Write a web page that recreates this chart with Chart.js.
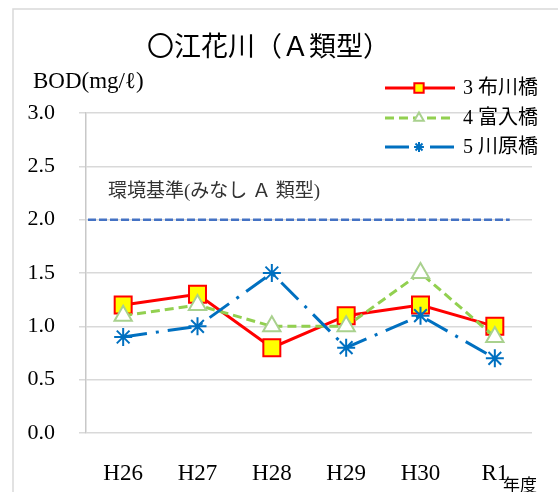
<!DOCTYPE html>
<html>
<head>
<meta charset="utf-8">
<script src="https://cdn.jsdelivr.net/npm/chart.js@4"></script>
<style>
  html, body { margin: 0; padding: 0; background: #fff; }
  #wrap { width: 558px; height: 492px; position: relative; }
</style>
</head>
<body>
<div id="wrap"><canvas id="grafica"></canvas></div>
<script>
// 年度ごとのBOD (mg/ℓ)
const years = ['H26', 'H27', 'H28', 'H29', 'H30', 'R1'];
const nunokawa = [1.2, 1.3, 0.8, 1.1, 1.2, 1.0];   // 3 布川橋
const tomiiri = [1.1, 1.2, 1.0, 1.0, 1.5, 0.9];    // 4 富入橋
const kawahara = [0.9, 1.0, 1.5, 0.8, 1.1, 0.7];   // 5 川原橋
const yTicks = [0.0, 0.5, 1.0, 1.5, 2.0, 2.5, 3.0];
const standardValue = 2.0;

const serif = '"Liberation Serif", "Noto Sans CJK JP", serif';

// 枠・タイトル・基準線・凡例を描くプラグイン
const decoraciones = {
    id: 'decoraciones',
    beforeDraw(chart) {
        const c = chart.ctx;
        c.save();
        c.strokeStyle = '#d9d9d9';
        c.lineWidth = 1.5;
        c.strokeRect(13, 9, 600, 600);
        c.restore();
    },
    afterDatasetsDraw(chart) {
        const c = chart.ctx;
        const area = chart.chartArea;
        const y = chart.scales.y.getPixelForValue(standardValue);
        c.save();
        // 環境基準線
        c.strokeStyle = '#4472C4';
        c.lineWidth = 2.5;
        c.setLineDash([8, 3]);
        c.beginPath();
        c.moveTo(area.left + 2, y);
        c.lineTo(area.left + (area.right - area.left) * 0.95, y);
        c.stroke();
        c.setLineDash([]);
        c.fillStyle = '#333';
        c.textBaseline = 'alphabetic';
        c.font = '19px ' + serif;
        c.fillText('環境基準(みなし Ａ 類型)', 108, 197);

        // タイトル
        c.fillStyle = '#000';
        c.font = '27px ' + serif;
        c.fillText('〇江花川（Ａ類型）', 147, 56);
        c.font = '23px ' + serif;
        c.fillText('BOD(mg/ℓ)', 33, 88);
        c.font = '17px ' + serif;
        c.fillText('年度', 503, 491);

        // 凡例
        const rows = [88, 118, 147];
        chart.data.datasets.forEach((ds, i) => {
            const ry = rows[i];
            c.strokeStyle = ds.borderColor;
            c.lineWidth = ds.borderWidth;
            c.setLineDash(ds.borderDash || []);
            c.beginPath();
            c.moveTo(385, ry);
            c.lineTo(455, ry);
            c.stroke();
            c.setLineDash([]);
            // drawPoint usa el estilo actual del contexto
            c.fillStyle = ds.pointBackgroundColor;
            c.strokeStyle = ds.pointBorderColor;
            c.lineWidth = ds.pointBorderWidth;
            Chart.helpers.drawPoint(c, {
                pointStyle: ds.pointStyle,
                radius: ds.pointRadius * 0.55,
                borderWidth: ds.pointBorderWidth,
                rotation: 0
            }, 419, ry);
            c.fillStyle = '#000';
            c.font = '20px ' + serif;
            c.textBaseline = 'middle';
            c.fillText(ds.label, 463, ry + 1);
        });
        c.restore();
    }
};

new Chart(document.getElementById('grafica'), {
    type: 'line',
    data: {
        labels: years,
        datasets: [{
            label: '3 布川橋',
            data: nunokawa,
            borderColor: '#FF0000',
            borderWidth: 3,
            pointStyle: 'rect',
            pointRadius: 12,
            pointBackgroundColor: '#FFFF00',
            pointBorderColor: '#FF0000',
            pointBorderWidth: 2,
            order: 3
        }, {
            label: '4 富入橋',
            data: tomiiri,
            borderColor: '#92D050',
            borderWidth: 3,
            borderDash: [9, 5],
            pointStyle: 'triangle',
            pointRadius: 10,
            pointBackgroundColor: '#FFFFFF',
            pointBorderColor: '#A9D18E',
            pointBorderWidth: 2,
            order: 2
        }, {
            label: '5 川原橋',
            data: kawahara,
            borderColor: '#0070C0',
            borderWidth: 3,
            borderDash: [24, 9, 3, 9],
            pointStyle: 'star',
            pointRadius: 9,
            pointBackgroundColor: '#0070C0',
            pointBorderColor: '#0070C0',
            pointBorderWidth: 2,
            order: 1
        }]
    },
    options: {
        responsive: true,
        maintainAspectRatio: false,
        animation: false,
        layout: { padding: { top: 113, right: 26, bottom: 0, left: 0 } },
        plugins: {
            legend: { display: false },
            title: { display: false },
            tooltip: { enabled: false }
        },
        scales: {
            x: {
                offset: true,
                grid: { display: false },
                border: { display: false },
                ticks: {
                    color: '#000',
                    padding: 19,
                    maxRotation: 0,
                    font: { family: serif, size: 23 }
                },
                afterFit(scale) { scale.height = 59; }
            },
            y: {
                min: 0,
                max: 3,
                afterBuildTicks(scale) {
                    scale.ticks = yTicks.map(v => ({ value: v }));
                },
                grid: {
                    color: '#d9d9d9',
                    lineWidth: 1.5,
                    tickLength: 7
                },
                border: { color: '#c8c8c8', width: 1.5 },
                ticks: {
                    color: '#000',
                    padding: 24,
                    font: { family: serif, size: 22 },
                    callback: v => v.toFixed(1)
                },
                afterFit(scale) { scale.width = 86; }
            }
        }
    },
    plugins: [decoraciones]
});
</script>
</body>
</html>
